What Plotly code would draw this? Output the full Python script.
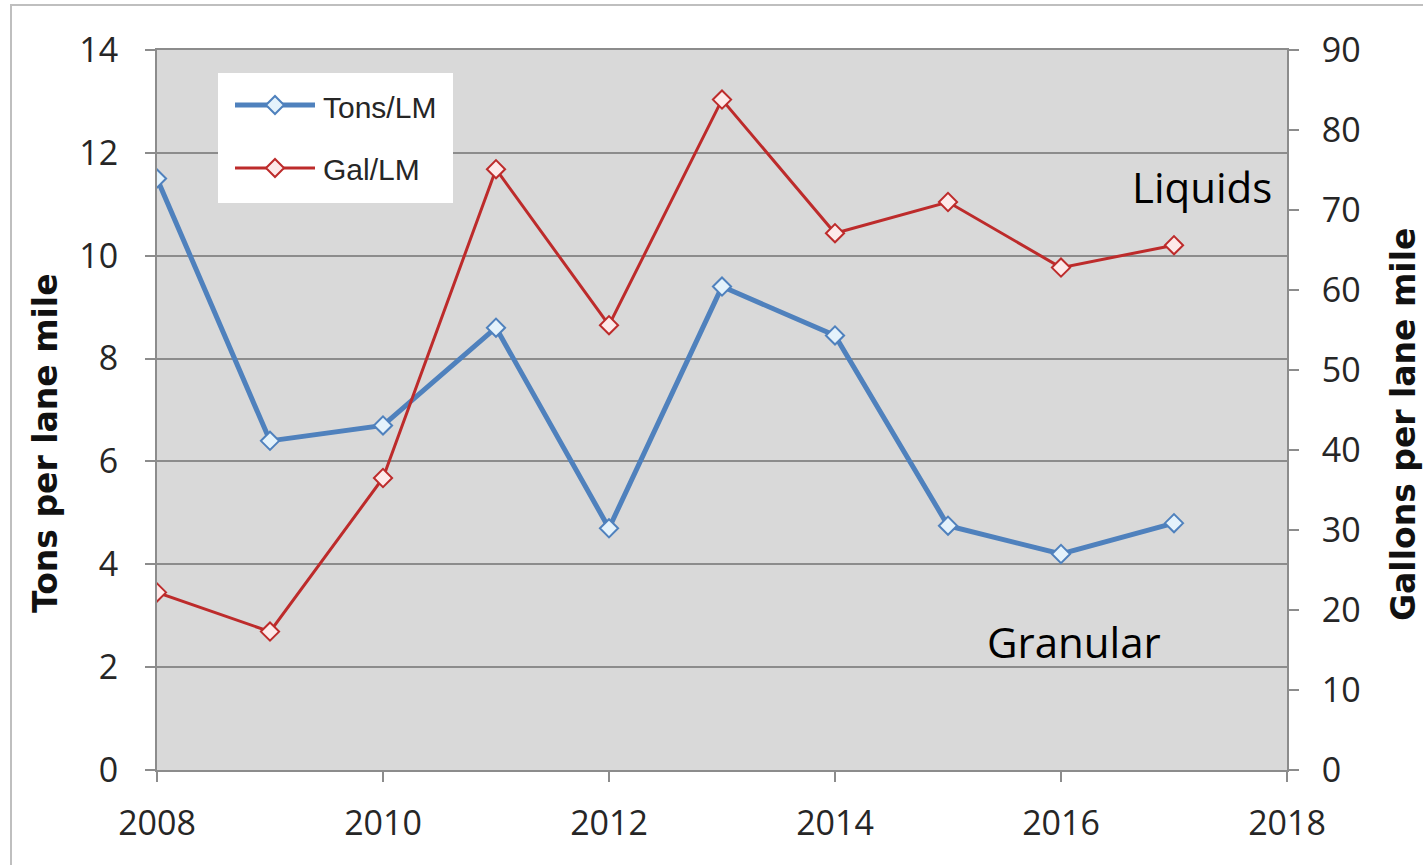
import plotly.graph_objects as go

# ---- data ----
years = [2008, 2009, 2010, 2011, 2012, 2013, 2014, 2015, 2016, 2017]
tons_per_lm = [11.5, 6.4, 6.7, 8.6, 4.7, 9.4, 8.45, 4.75, 4.2, 4.8]
gal_per_lm = [22.2, 17.3, 36.5, 75.1, 55.6, 83.8, 67.1, 71.0, 62.8, 65.6]
series_names = ["Tons/LM", "Gal/LM"]
left_title = "Tons per lane mile"
right_title = "Gallons per lane mile"
notes = ["Liquids", "Granular"]

# ---- layout geometry (pixels) ----
W, H = 1423, 865
L, R, T, B = 157, 1287, 50, 770


def X(px):
    return (px - L) / (R - L)


def Y(py):
    return (B - py) / (B - T)


BLUE = "#4f81bd"
RED = "#bd2b2b"
GRID = "#8c8c8c"
TICKFONT = dict(family="Open Sans", size=34, color="#262626")

fig = go.Figure()
fig.add_trace(go.Scatter(
    x=years, y=tons_per_lm, name=series_names[0], mode="lines+markers",
    line=dict(color=BLUE, width=5),
    marker=dict(symbol="diamond", size=14, color="#e4f2fb", line=dict(color=BLUE, width=2)),
    yaxis="y", showlegend=False))
fig.add_trace(go.Scatter(
    x=years, y=gal_per_lm, name=series_names[1], mode="lines+markers",
    line=dict(color=RED, width=3),
    marker=dict(symbol="diamond", size=14, color="#fde9e9", line=dict(color=RED, width=2)),
    yaxis="y2", showlegend=False))

axis_common = dict(showline=True, linecolor=GRID, linewidth=2, ticks="outside",
                   ticklen=10, tickwidth=2, tickcolor=GRID, zeroline=False,
                   tickfont=TICKFONT)

fig.update_layout(
    width=W, height=H,
    margin=dict(l=L, r=W - R, t=T, b=H - B),
    paper_bgcolor="white", plot_bgcolor="#d9d9d9",
    xaxis=dict(range=[2008, 2018], dtick=2, tick0=2008, showgrid=False, mirror=True,
               ticklabelstandoff=12, **axis_common),
    yaxis=dict(range=[0, 14], dtick=2, showgrid=True, gridcolor=GRID, gridwidth=2,
               ticklabelstandoff=20, **axis_common),
    yaxis2=dict(range=[0, 90], dtick=10, overlaying="y", side="right", showgrid=False,
                ticklabelstandoff=16, **axis_common),
)

shapes = []
annotations = []

# outer chart border
shapes.append(dict(type="rect", xref="paper", yref="paper", x0=X(11), x1=X(1440),
                   y0=Y(880), y1=Y(5), line=dict(color="#bfbfbf", width=2), layer="below"))

# legend box
shapes.append(dict(type="rect", xref="paper", yref="paper", x0=X(218), x1=X(453),
                   y0=Y(203), y1=Y(73), fillcolor="white", line=dict(width=0), layer="above"))
for py, col, lw, fill, name in [(105, BLUE, 5, "#e4f2fb", series_names[0]),
                                 (168, RED, 3, "#fde9e9", series_names[1])]:
    shapes.append(dict(type="line", xref="paper", yref="paper", x0=X(235), x1=X(315),
                       y0=Y(py), y1=Y(py), line=dict(color=col, width=lw), layer="above"))
    shapes.append(dict(type="path", xref="paper", yref="paper", xsizemode="pixel",
                       ysizemode="pixel", xanchor=X(275), yanchor=Y(py),
                       path="M -9 0 L 0 9 L 9 0 L 0 -9 Z", fillcolor=fill,
                       line=dict(color=col, width=2), layer="above"))
    annotations.append(dict(text=name, xref="paper", yref="paper", x=X(321), y=Y(py + 2),
                            xanchor="left", yanchor="middle", showarrow=False,
                            font=dict(family="Liberation Sans", size=30, color="#262626")))

# axis titles
annotations.append(dict(text=f"<b>{left_title}</b>", xref="paper", yref="paper", x=X(45),
                        y=Y(443), textangle=-90, showarrow=False, xanchor="center",
                        yanchor="middle", font=dict(family="DejaVu Sans", size=33, color="#111")))
annotations.append(dict(text=f"<b>{right_title}</b>", xref="paper", yref="paper", x=X(1404),
                        y=Y(425), textangle=-90, showarrow=False, xanchor="center",
                        yanchor="middle", font=dict(family="DejaVu Sans", size=33, color="#111")))

# text notes
annotations.append(dict(text=notes[0], xref="paper", yref="paper", x=X(1274), y=Y(186),
                        xanchor="right", yanchor="middle", showarrow=False,
                        font=dict(family="Open Sans", size=42, color="black")))
annotations.append(dict(text=notes[1], xref="paper", yref="paper", x=X(1074), y=Y(641),
                        xanchor="center", yanchor="middle", showarrow=False,
                        font=dict(family="Open Sans", size=42, color="black")))

fig.update_layout(shapes=shapes, annotations=annotations)
fig.write_html("out.html",
               config={"displayModeBar": False},
               post_script="document.body.style.margin='0';document.body.style.overflow='hidden';")
